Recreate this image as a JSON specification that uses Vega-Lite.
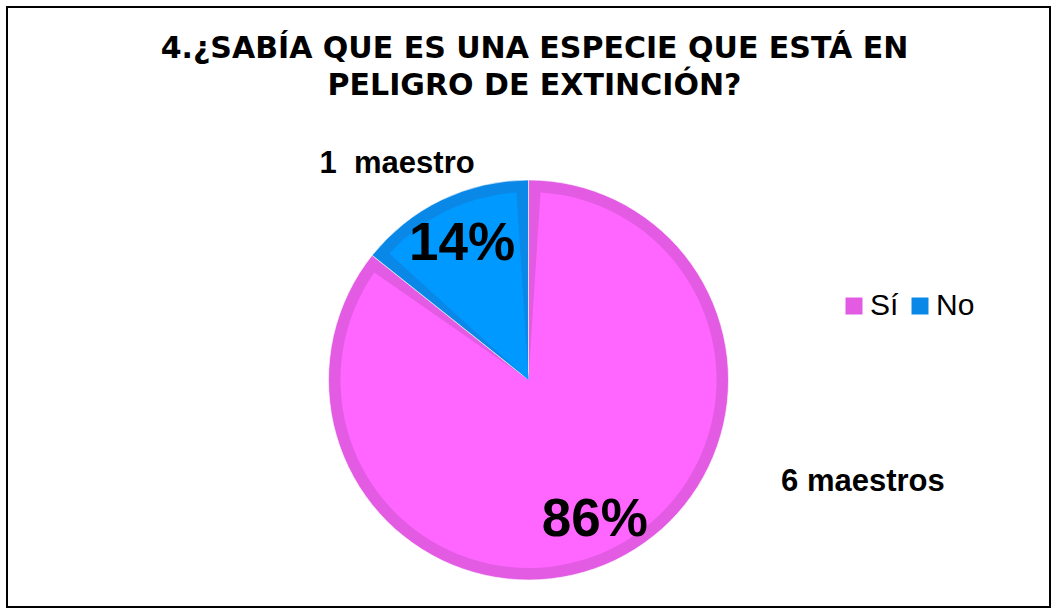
{
  "$schema": "https://vega.github.io/schema/vega-lite/v6.json",
  "width": 1043,
  "height": 600,
  "autosize": {"type": "none"},
  "padding": {"left": 7, "top": 7, "right": 7, "bottom": 2},
  "background": "white",
  "view": {"stroke": "black", "strokeWidth": 2, "fill": "white"},
  "title": {
    "text": ["4.¿SABÍA QUE ES UNA ESPECIE QUE ESTÁ EN", "PELIGRO DE EXTINCIÓN?"],
    "font": "DejaVu Sans",
    "fontSize": 30,
    "fontWeight": "bold",
    "color": "black",
    "anchor": "middle",
    "frame": "group",
    "lineHeight": 37,
    "offset": -94,
    "dx": 6
  },
  "data": {
    "values": [
      {"cat": "Sí", "n": 6, "pct": "86%", "maestros": "6 maestros"},
      {"cat": "No", "n": 1, "pct": "14%", "maestros": "1\u00a0\u00a0maestro"}
    ]
  },
  "encoding": {
    "theta": {"field": "n", "type": "quantitative", "stack": true},
    "order": {"field": "n", "type": "quantitative", "sort": "descending"}
  },
  "layer": [
    {
      "mark": {"type": "arc", "radius": 200, "yOffset": 73, "stroke": "white", "strokeWidth": 1, "strokeOpacity": 0.6},
      "encoding": {
        "color": {
          "field": "cat", "type": "nominal",
          "scale": {"domain": ["Sí", "No"], "range": ["#E35BE3", "#0A88E8"]},
          "legend": {
            "title": null, "orient": "none", "legendX": 832, "legendY": 284,
            "direction": "horizontal", "symbolType": "square", "symbolSize": 289,
            "symbolStrokeWidth": 0, "labelFont": "Liberation Sans", "labelFontSize": 30,
            "labelColor": "black", "labelOffset": 1, "columnPadding": 6, "padding": 0
          }
        }
      }
    },
    {
      "mark": {"type": "arc", "radius": 188, "padAngle": 0.128, "yOffset": 73},
      "encoding": {
        "fill": {
          "field": "cat", "type": "nominal",
          "scale": {"domain": ["Sí", "No"], "range": ["#FF66FF", "#0099FF"]},
          "legend": null
        }
      }
    },
    {
      "mark": {"type": "text", "radius": 153, "yOffset": 75, "font": "Liberation Sans", "fontWeight": "bold", "fontSize": 53, "color": "black", "baseline": "middle", "align": "center"},
      "encoding": {"text": {"field": "pct"}}
    },
    {
      "mark": {"type": "text", "radius": 153, "yOffset": 73, "dx": 268, "dy": -36, "font": "Liberation Sans", "fontWeight": "bold", "fontSize": 31, "color": "black", "baseline": "middle", "align": "center"},
      "encoding": {"text": {"condition": {"test": "datum.cat === 'Sí'", "field": "maestros"}, "value": ""}}
    },
    {
      "mark": {"type": "text", "radius": 153, "yOffset": 73, "dx": -65, "dy": -78, "font": "Liberation Sans", "fontWeight": "bold", "fontSize": 31, "color": "black", "baseline": "middle", "align": "center"},
      "encoding": {"text": {"condition": {"test": "datum.cat === 'No'", "field": "maestros"}, "value": ""}}
    }
  ],
  "config": {
    "view": {"stroke": "black", "strokeWidth": 2},
    "style": {"cell": {"stroke": "black", "strokeWidth": 2}}
  }
}
